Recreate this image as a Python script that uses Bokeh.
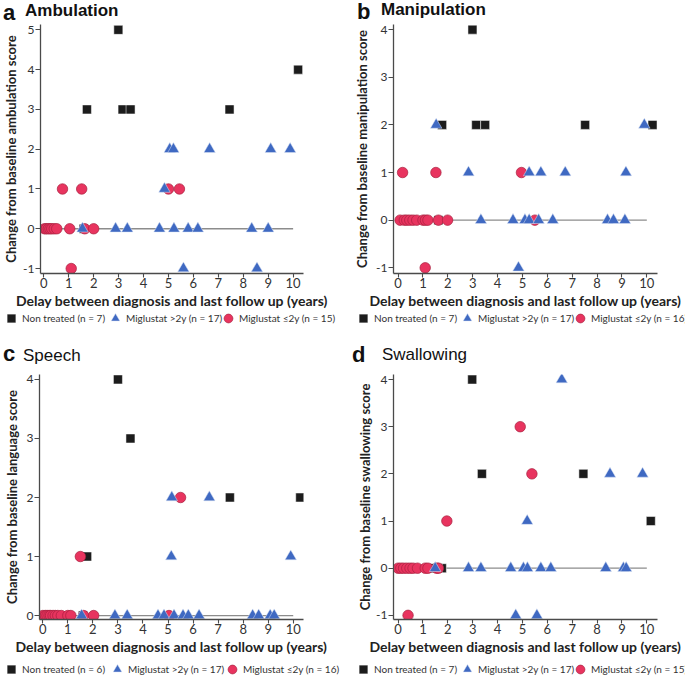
from bokeh.plotting import figure
from bokeh.models import Legend, LegendItem, FixedTicker, Range1d, Div
from bokeh.layouts import column, row
from bokeh.embed import file_html
from bokeh.resources import INLINE

FONT = "Lato"

# ---------------- data ----------------
x_ticks = list(range(0, 11))
zero_line_x = [0, 10]
zero_line_y = [0, 0]
x_title = "Delay between diagnosis and last follow up (years)"

legend_labels_a = ["Non treated (n = 7)", "Miglustat >2y (n = 17)", "Miglustat \u22642y (n = 15)"]
legend_labels_b = ["Non treated (n = 7)", "Miglustat >2y (n = 17)", "Miglustat \u22642y (n = 16)"]
legend_labels_c = ["Non treated (n = 6)", "Miglustat >2y (n = 17)", "Miglustat \u22642y (n = 16)"]
legend_labels_d = ["Non treated (n = 7)", "Miglustat >2y (n = 17)", "Miglustat \u22642y (n = 15)"]

# a  Ambulation
amb_nt_x = [1.73, 2.99, 3.16, 3.48, 7.45, 10.2, 1.6]
amb_nt_y = [3, 5, 3, 3, 3, 4, 0]
amb_m2_x = [5.05, 5.2, 6.65, 9.1, 9.88, 4.84, 1.55, 2.88, 3.35, 4.64, 5.22, 5.79, 6.18, 8.34, 9.0, 5.6, 8.55]
amb_m2_y = [2, 2, 2, 2, 2, 1, 0, 0, 0, 0, 0, 0, 0, 0, 0, -1, -1]
amb_le_x = [0.75, 1.52, 5.0, 5.44, 1.1, 0.03, 0.1, 0.18, 0.25, 0.32, 0.42, 0.52, 1.04, 1.64, 2.0]
amb_le_y = [1, 1, 1, 1, -1, 0, 0, 0, 0, 0, 0, 0, 0, 0, 0]

# b  Manipulation
man_nt_x = [1.77, 2.99, 3.14, 3.5, 7.52, 10.23, 1.62]
man_nt_y = [2, 4, 2, 2, 2, 2, 0]
man_m2_x = [1.53, 9.9, 2.83, 5.27, 5.74, 6.72, 9.16, 3.33, 4.62, 5.1, 5.27, 5.65, 6.22, 8.42, 8.66, 9.12, 4.84]
man_m2_y = [2, 2, 1, 1, 1, 1, 1, 0, 0, 0, 0, 0, 0, 0, 0, 0, -1]
man_le_x = [0.18, 1.52, 4.96, 1.09, 0.08, 0.25, 0.35, 0.47, 0.6, 0.75, 1.0, 1.1, 1.2, 1.62, 1.99, 5.5]
man_le_y = [1, 1, 1, -1, 0, 0, 0, 0, 0, 0, 0, 0, 0, 0, 0, 0]

# c  Speech
spe_nt_x = [3.0, 3.5, 7.47, 10.28, 1.77, 1.6]
spe_nt_y = [4, 3, 2, 2, 1, 0]
spe_m2_x = [5.15, 6.65, 5.13, 9.9, 1.55, 2.88, 3.37, 4.6, 4.84, 5.24, 5.6, 5.81, 6.24, 8.38, 8.62, 9.08, 9.24]
spe_m2_y = [2, 2, 1, 1, 0, 0, 0, 0, 0, 0, 0, 0, 0, 0, 0, 0, 0]
spe_le_x = [1.5, 5.5, 0.0, 0.1, 0.17, 0.25, 0.31, 0.41, 0.5, 0.6, 0.74, 1.0, 1.12, 1.63, 2.03, 5.04]
spe_le_y = [1, 2, 0, 0, 0, 0, 0, 0, 0, 0, 0, 0, 0, 0, 0, 0]

# d  Swallowing
swa_nt_x = [2.98, 3.37, 7.45, 10.16, 1.76, 1.3, 1.6]
swa_nt_y = [4, 2, 2, 1, 0, 0, 0]
swa_m2_x = [6.58, 8.52, 9.83, 5.19, 1.49, 2.83, 3.33, 4.53, 5.04, 5.2, 5.74, 6.14, 8.35, 9.06, 9.17, 4.73, 5.58]
swa_m2_y = [4, 2, 2, 1, 0, 0, 0, 0, 0, 0, 0, 0, 0, 0, 0, -1, -1]
swa_le_x = [4.91, 5.38, 1.96, 0.4, 0.0, 0.11, 0.22, 0.35, 0.48, 0.6, 0.78, 1.09, 1.2, 1.55, 1.62]
swa_le_y = [3, 2, 1, -1, 0, 0, 0, 0, 0, 0, 0, 0, 0, 0, 0]

# ---------------- styles ----------------
NT_STYLE = dict(marker="square", size=9, fill_color="#1c1c1c", line_color="white", line_width=0.5)
LE_STYLE = dict(marker="circle", size=10.5, fill_color="#E8345F", line_color="#A8213F", line_width=0.7)
M2_STYLE = dict(marker="triangle", size=11.5, fill_color="#3F69C2", line_color="#dfe6f5", line_width=0.5)


def title_div(width, height, items):
    parts = []
    for (x, y, txt, family, weight, size) in items:
        parts.append(
            f'<text x="{x}" y="{y}" font-family="{family}" font-weight="{weight}" '
            f'font-size="{size}px" fill="#111111">{txt}</text>')
    svg = (f'<svg xmlns="http://www.w3.org/2000/svg" width="{width}" height="{height}" '
           f'style="display:block;overflow:visible">' + "".join(parts) + "</svg>")
    return Div(text=svg, width=width, height=height, margin=0)


def make_panel(cfg):
    p = figure(width=cfg["width"], height=cfg["height"],
               x_range=Range1d(*cfg["xr"]), y_range=Range1d(*cfg["yr"]),
               output_backend="svg", toolbar_location=None,
               min_border_left=cfg["bl"], min_border_right=cfg["br"],
               min_border_top=cfg["bt"], min_border_bottom=35)
    p.outline_line_color = None
    p.grid.visible = False
    p.background_fill_color = "white"
    p.border_fill_color = "white"

    for ax in (p.xaxis, p.yaxis):
        ax.axis_line_color = "#4a4a4a"
        ax.axis_line_width = 1.3
        ax.major_tick_line_color = "#4a4a4a"
        ax.major_tick_line_width = 1.1
        ax.minor_tick_line_color = None
        ax.major_tick_in = 0
        ax.major_label_text_font = FONT
        ax.major_label_text_color = "#333333"
        ax.axis_label_text_font = FONT
        ax.axis_label_text_font_style = "bold"
        ax.axis_label_text_color = "#222222"
    p.xaxis.ticker = FixedTicker(ticks=x_ticks)
    p.xaxis.major_tick_out = 4
    p.xaxis.major_label_standoff = 0
    p.xaxis.major_label_text_font_size = "13px"
    p.xaxis.axis_label = x_title
    p.xaxis.axis_label_text_font_size = "14px"
    p.xaxis.axis_label_standoff = 1
    p.yaxis.ticker = FixedTicker(ticks=cfg["yticks"])
    p.yaxis.major_tick_out = 5
    p.yaxis.major_label_standoff = 1
    p.yaxis.major_label_text_font_size = "12px"
    p.yaxis.major_label_overrides = {t: str(t) for t in cfg["yticks"]}
    p.yaxis.axis_label = cfg["ylabel"]
    p.yaxis.axis_label_text_font_size = "13px"
    p.yaxis.axis_label_standoff = cfg["ylso"]

    p.line(zero_line_x, zero_line_y, line_color="#8c8c8c", line_width=1.3)

    nx, ny = cfg["nt"]
    mx, my = cfg["m2"]
    lx, ly = cfg["le"]
    p.scatter(nx, ny, **NT_STYLE)
    p.scatter(lx, ly, **LE_STYLE)
    p.scatter(mx, my, **M2_STYLE)
    return p


def legend_fig(width, height, labels, series, xs, vy):
    # a strip holding the panel's legend; its ranges are far from the data,
    # so only the legend entries themselves are visible
    p = figure(width=width, height=height, x_range=Range1d(1000, 1001), y_range=Range1d(1000, 1001),
               output_backend="svg", toolbar_location=None, min_border=0,
               x_axis_location=None, y_axis_location=None)
    p.outline_line_color = None
    p.grid.visible = False
    p.border_fill_color = "white"
    (nx, ny), (mx, my), (lx, ly) = series
    rends = [p.scatter(nx, ny, **NT_STYLE),
             p.scatter(mx, my, **M2_STYLE),
             p.scatter(lx, ly, **LE_STYLE)]
    for lab, r, x0 in zip(labels, rends, xs):
        leg = Legend(items=[LegendItem(label=lab, renderers=[r])],
                     location=(x0, vy), orientation="horizontal",
                     glyph_width=22, glyph_height=22, label_standoff=-3,
                     spacing=0, padding=0, margin=0,
                     border_line_color=None, background_fill_alpha=0,
                     label_text_font=FONT, label_text_font_size="10px",
                     label_text_color="#333333", label_height=22)
        p.add_layout(leg)
    return p


div_top = title_div(685, 24, [
    (3, 20, "a", "Liberation Sans", "bold", 22),
    (25, 15.5, "Ambulation", FONT, "bold", 17),
    (357, 19.3, "b", "Liberation Sans", "bold", 22),
    (381, 15, "Manipulation", FONT, "bold", 17),
])
div_mid = title_div(685, 42, [
    (3, 36.7, "c", "Liberation Sans", "bold", 22),
    (23, 36.7, "Speech", FONT, "500", 17),
    (352, 37.7, "d", "Liberation Sans", "bold", 22),
    (382, 36, "Swallowing", FONT, "500", 17),
])

pa = make_panel(dict(width=342, height=287, xr=(-0.132, 10.416), yr=(-1.125, 5.135),
                     bl=39, br=39, bt=0, yticks=[-1, 0, 1, 2, 3, 4, 5],
                     nt=(amb_nt_x, amb_nt_y), m2=(amb_m2_x, amb_m2_y), le=(amb_le_x, amb_le_y),
                     ylso=1, ylabel="Change from baseline ambulation score"))

pb = make_panel(dict(width=343, height=287, xr=(-0.185, 10.43), yr=(-1.12, 4.108),
                     bl=51, br=28, bt=0, yticks=[-1, 0, 1, 2, 3, 4],
                     nt=(man_nt_x, man_nt_y), m2=(man_m2_x, man_m2_y), le=(man_le_x, man_le_y),
                     ylso=3, ylabel="Change from baseline manipulation score"))

pc = make_panel(dict(width=342, height=291, xr=(-0.132, 10.41), yr=(-0.067, 4.084),
                     bl=39, br=39, bt=8, yticks=[0, 1, 2, 3, 4],
                     nt=(spe_nt_x, spe_nt_y), m2=(spe_m2_x, spe_m2_y), le=(spe_le_x, spe_le_y),
                     ylso=4, ylabel="Change from baseline language score"))

pd = make_panel(dict(width=343, height=291, xr=(-0.185, 10.43), yr=(-1.088, 4.107),
                     bl=51, br=28, bt=3, yticks=[-1, 0, 1, 2, 3, 4],
                     nt=(swa_nt_x, swa_nt_y), m2=(swa_m2_x, swa_m2_y), le=(swa_le_x, swa_le_y),
                     ylso=0, ylabel="Change from baseline swallowing score"))

la = legend_fig(342, 13, legend_labels_a,
                [(amb_nt_x, amb_nt_y), (amb_m2_x, amb_m2_y), (amb_le_x, amb_le_y)],
                [0, 104, 217], -4.5)
lb = legend_fig(343, 13, legend_labels_b,
                [(man_nt_x, man_nt_y), (man_m2_x, man_m2_y), (man_le_x, man_le_y)],
                [10, 114, 227], -4.5)
lc = legend_fig(342, 18, legend_labels_c,
                [(spe_nt_x, spe_nt_y), (spe_m2_x, spe_m2_y), (spe_le_x, spe_le_y)],
                [0, 106, 221], -5)
ld = legend_fig(343, 18, legend_labels_d,
                [(swa_nt_x, swa_nt_y), (swa_m2_x, swa_m2_y), (swa_le_x, swa_le_y)],
                [10, 114, 227], -5)

layout = column(div_top, row(pa, pb), row(la, lb), div_mid, row(pc, pd), row(lc, ld))
open("out.html", "w").write(file_html(layout, INLINE))
